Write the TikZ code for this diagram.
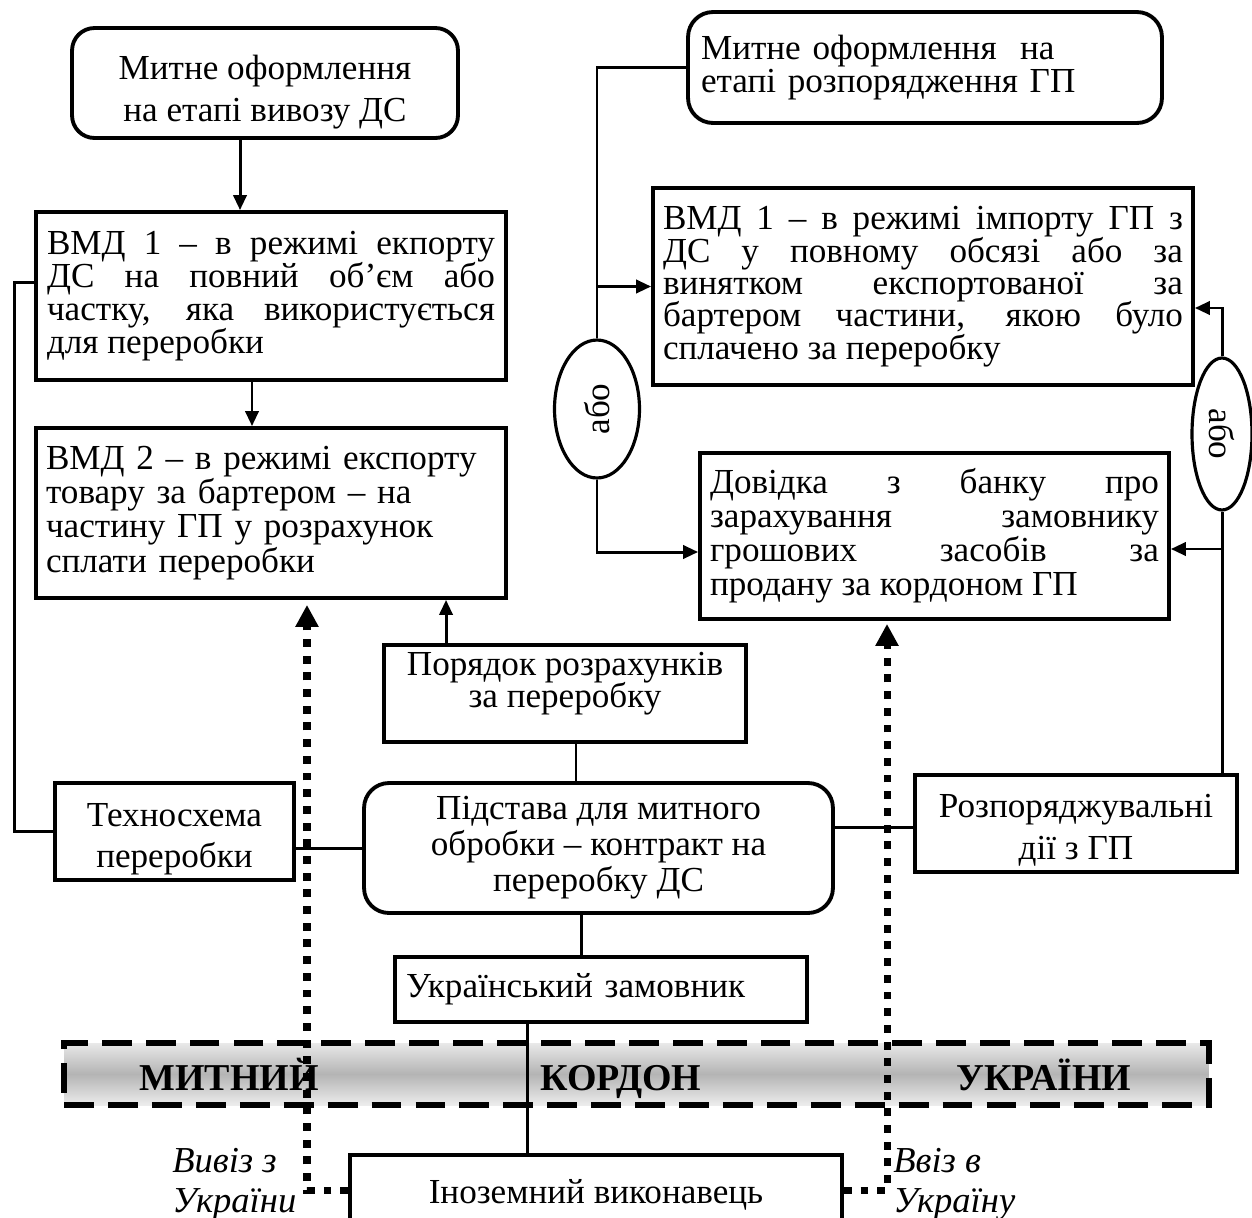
\documentclass[tikz,border=0pt]{standalone}
\usepackage{fontspec}
\setmainfont{Liberation Serif}
\usepackage{graphicx}
\usepackage{tikz}
\usetikzlibrary{
  arrows.meta,
  shapes.geometric,
  positioning,
  calc
}
\definecolor{bandGray}{HTML}{B4B4B4}
\newcommand\nfs[1]{\fontsize{20}{#1}\selectfont\lineskiplimit=-100pt\relax}
\tikzset{
  cbox/.style={
    draw, line width=2.2pt, inner sep=0.2cm, align=center, font=\nfs{18.8}
  },
  rcbox/.style={cbox, rounded corners=0.45cm},
  jbox/.style={cbox, align=justify},
  orlink/.style={draw, ellipse, line width=1.8pt, inner sep=0pt, font=\nfs{20}},
  link/.style={line width=1.7pt},
  flow/.style={link, -{Triangle[length=8.5pt, width=7.5pt]}},
  route/.style={line width=4pt, dash pattern=on 4.5pt off 5pt, -{Triangle[length=12.5pt, width=12.5pt]}},
  borderband/.style={
    draw, line width=3.4pt, dash pattern=on 17pt off 8pt,
    top color=bandGray!30, bottom color=bandGray!25, middle color=bandGray
  },
  bandtext/.style={font=\fontsize{21.6}{24}\selectfont\bfseries, anchor=base, inner sep=0pt},
  sidetag/.style={font=\fontsize{20.8}{22.8}\selectfont\itshape, align=left, anchor=west, inner sep=0pt}
}

\begin{document}
\begin{tikzpicture}[x=0.02cm, y=-0.02cm]
  \useasboundingbox (0,0) rectangle (1252,1218);

  \node[borderband, minimum width=22.9cm, minimum height=1.24cm] (band) at (636.5,1074) {};
  \node[bandtext] (bandA) at (229,1090) {МИТНИЙ};
  \node[bandtext] (bandB) at (621,1090) {КОРДОН};
  \node[bandtext] (bandC) at (1044,1090) {УКРАЇНИ};

  \node[rcbox, minimum width=7.72cm, minimum height=2.2cm, font=\nfs{24}, text height=44pt, text depth=0pt] (expTop) at (265,83) {Митне оформлення\\на етапі вивозу ДС};
  \node[jbox, text width=8.96cm, inner xsep=0.22cm, minimum height=3.36cm] (vmdExp) at (271,296) {ВМД 1 – в режимі екпорту\linebreak ДС на повний об’єм або\linebreak частку, яка використується\linebreak для переробки};
  \node[cbox, align=left, text width=9cm, inner xsep=0.2cm, minimum height=3.4cm, font=\nfs{19.4}] (vmdBarter) at (271,513) {ВМД 2 – в режимі експорту\\товару за бартером – на\\частину ГП у розрахунок\\сплати переробки};
  \node[cbox, minimum width=7.24cm, minimum height=1.94cm, font=\nfs{18.2}, text height=16pt, text depth=0pt] (order) at (565,693.5) {Порядок розрахунків\\за переробку};
  \node[cbox, minimum width=4.78cm, minimum height=1.94cm, font=\nfs{23.4}, text height=41pt, text depth=0pt] (tech) at (174.5,831.5) {Техносхема\\переробки};
  \node[rcbox, rounded corners=0.5cm, minimum width=9.38cm, minimum height=2.6cm, font=\nfs{20.5}] (basis) at (598.5,848) {Підстава для митного\\обробки – контракт на\\переробку ДС};
  \node[cbox, minimum width=6.44cm, minimum height=1.94cm, font=\nfs{24}, text height=41pt, text depth=0pt] (disp) at (1076,823.5) {Розпоряджувальні\\дії з ГП};
  \node[cbox, align=left, text width=7.8cm, inner xsep=0.22cm, minimum height=1.3cm] (customer) at (601,989.5) {Український замовник};
  \node[cbox, minimum width=9.84cm, minimum height=1.6cm] (foreign) at (596,1195) {Іноземний виконавець};

  \node[rcbox, rounded corners=0.5cm, align=left, text width=8.96cm, inner xsep=0.26cm, minimum height=2.22cm] (impTop) at (925,67.5) {Митне оформлення\ \ на\\етапі розпорядження ГП};
  \node[jbox, text width=10.4cm, inner xsep=0.2cm, minimum height=3.94cm, font=\nfs{18.4}] (vmdImp) at (923,286.5) {ВМД 1 – в режимі імпорту ГП з\linebreak ДС у повному обсязі або за\linebreak винятком експортованої за\linebreak бартером частини, якою було\linebreak сплачено за переробку};
  \node[jbox, text width=8.98cm, inner xsep=0.2cm, minimum height=3.32cm, font=\nfs{19.4}] (bank) at (934.5,536) {Довідка з банку про\linebreak зарахування замовнику\linebreak грошових засобів за\linebreak продану за кордоном ГП};

  \node[orlink, minimum width=1.7cm, minimum height=2.76cm] (orL) at (597,409) {\rotatebox{90}{або}};
  \node[orlink, minimum width=1.2cm, minimum height=3.04cm] (orR) at (1222,434) {\rotatebox{-90}{або}};

  \node[sidetag] (outTag) at (172,1184) {Вивіз з\\України};
  \node[sidetag] (inTag) at (893,1184) {Ввіз в\\Україну};

  \draw[flow] ([xshift=-0.5cm]expTop.south) -- ([xshift=-0.5cm]expTop.south |- vmdExp.north);
  \draw[flow] ([xshift=-0.38cm]vmdExp.south) -- ([xshift=-0.38cm]vmdExp.south |- vmdBarter.north);
  \draw[link] ([yshift=0.28cm]vmdExp.west) -- ++(-0.4cm,0) |- (tech.west);
  \draw[flow] ([xshift=-2.38cm]order.north) -- ([xshift=-2.38cm]order.north |- vmdBarter.south);
  \draw[link] ([xshift=0.22cm]order.south) -- ([xshift=0.22cm]order.south |- basis.north);
  \draw[link] (basis.west) -- (basis.west -| tech.east);
  \draw[link] ([yshift=0.42cm]basis.east) -- ([yshift=0.42cm]basis.east -| disp.west);
  \draw[link] ([xshift=-0.35cm]basis.south) -- ([xshift=-0.35cm]basis.south |- customer.north);
  \draw[link] ([xshift=-1.48cm]customer.south) -- ([xshift=-1.48cm]customer.south |- foreign.north);

  \draw[link] (disp.north -| orR.south) -- (orR.south);
  \draw[flow] ([yshift=-0.26cm]bank.east -| orR.south) -- ([yshift=-0.26cm]bank.east);
  \draw[flow] (orR.north) |- ([yshift=-0.43cm]vmdImp.east);
  \draw[link] (impTop.west) -| (orL.north);
  \draw[flow] (orL.north |- vmdImp.west) -- (vmdImp.west);
  \draw[flow] (orL.south) |- ([yshift=-0.32cm]bank.west);

  \draw[route, shorten >=0.1cm] ([yshift=0.1cm]foreign.west) -| ([xshift=0.72cm]vmdBarter.south);
  \draw[route, shorten >=0.06cm] ([yshift=0.1cm]foreign.east) -| ([xshift=-0.95cm]bank.south);
\end{tikzpicture}
\end{document}
